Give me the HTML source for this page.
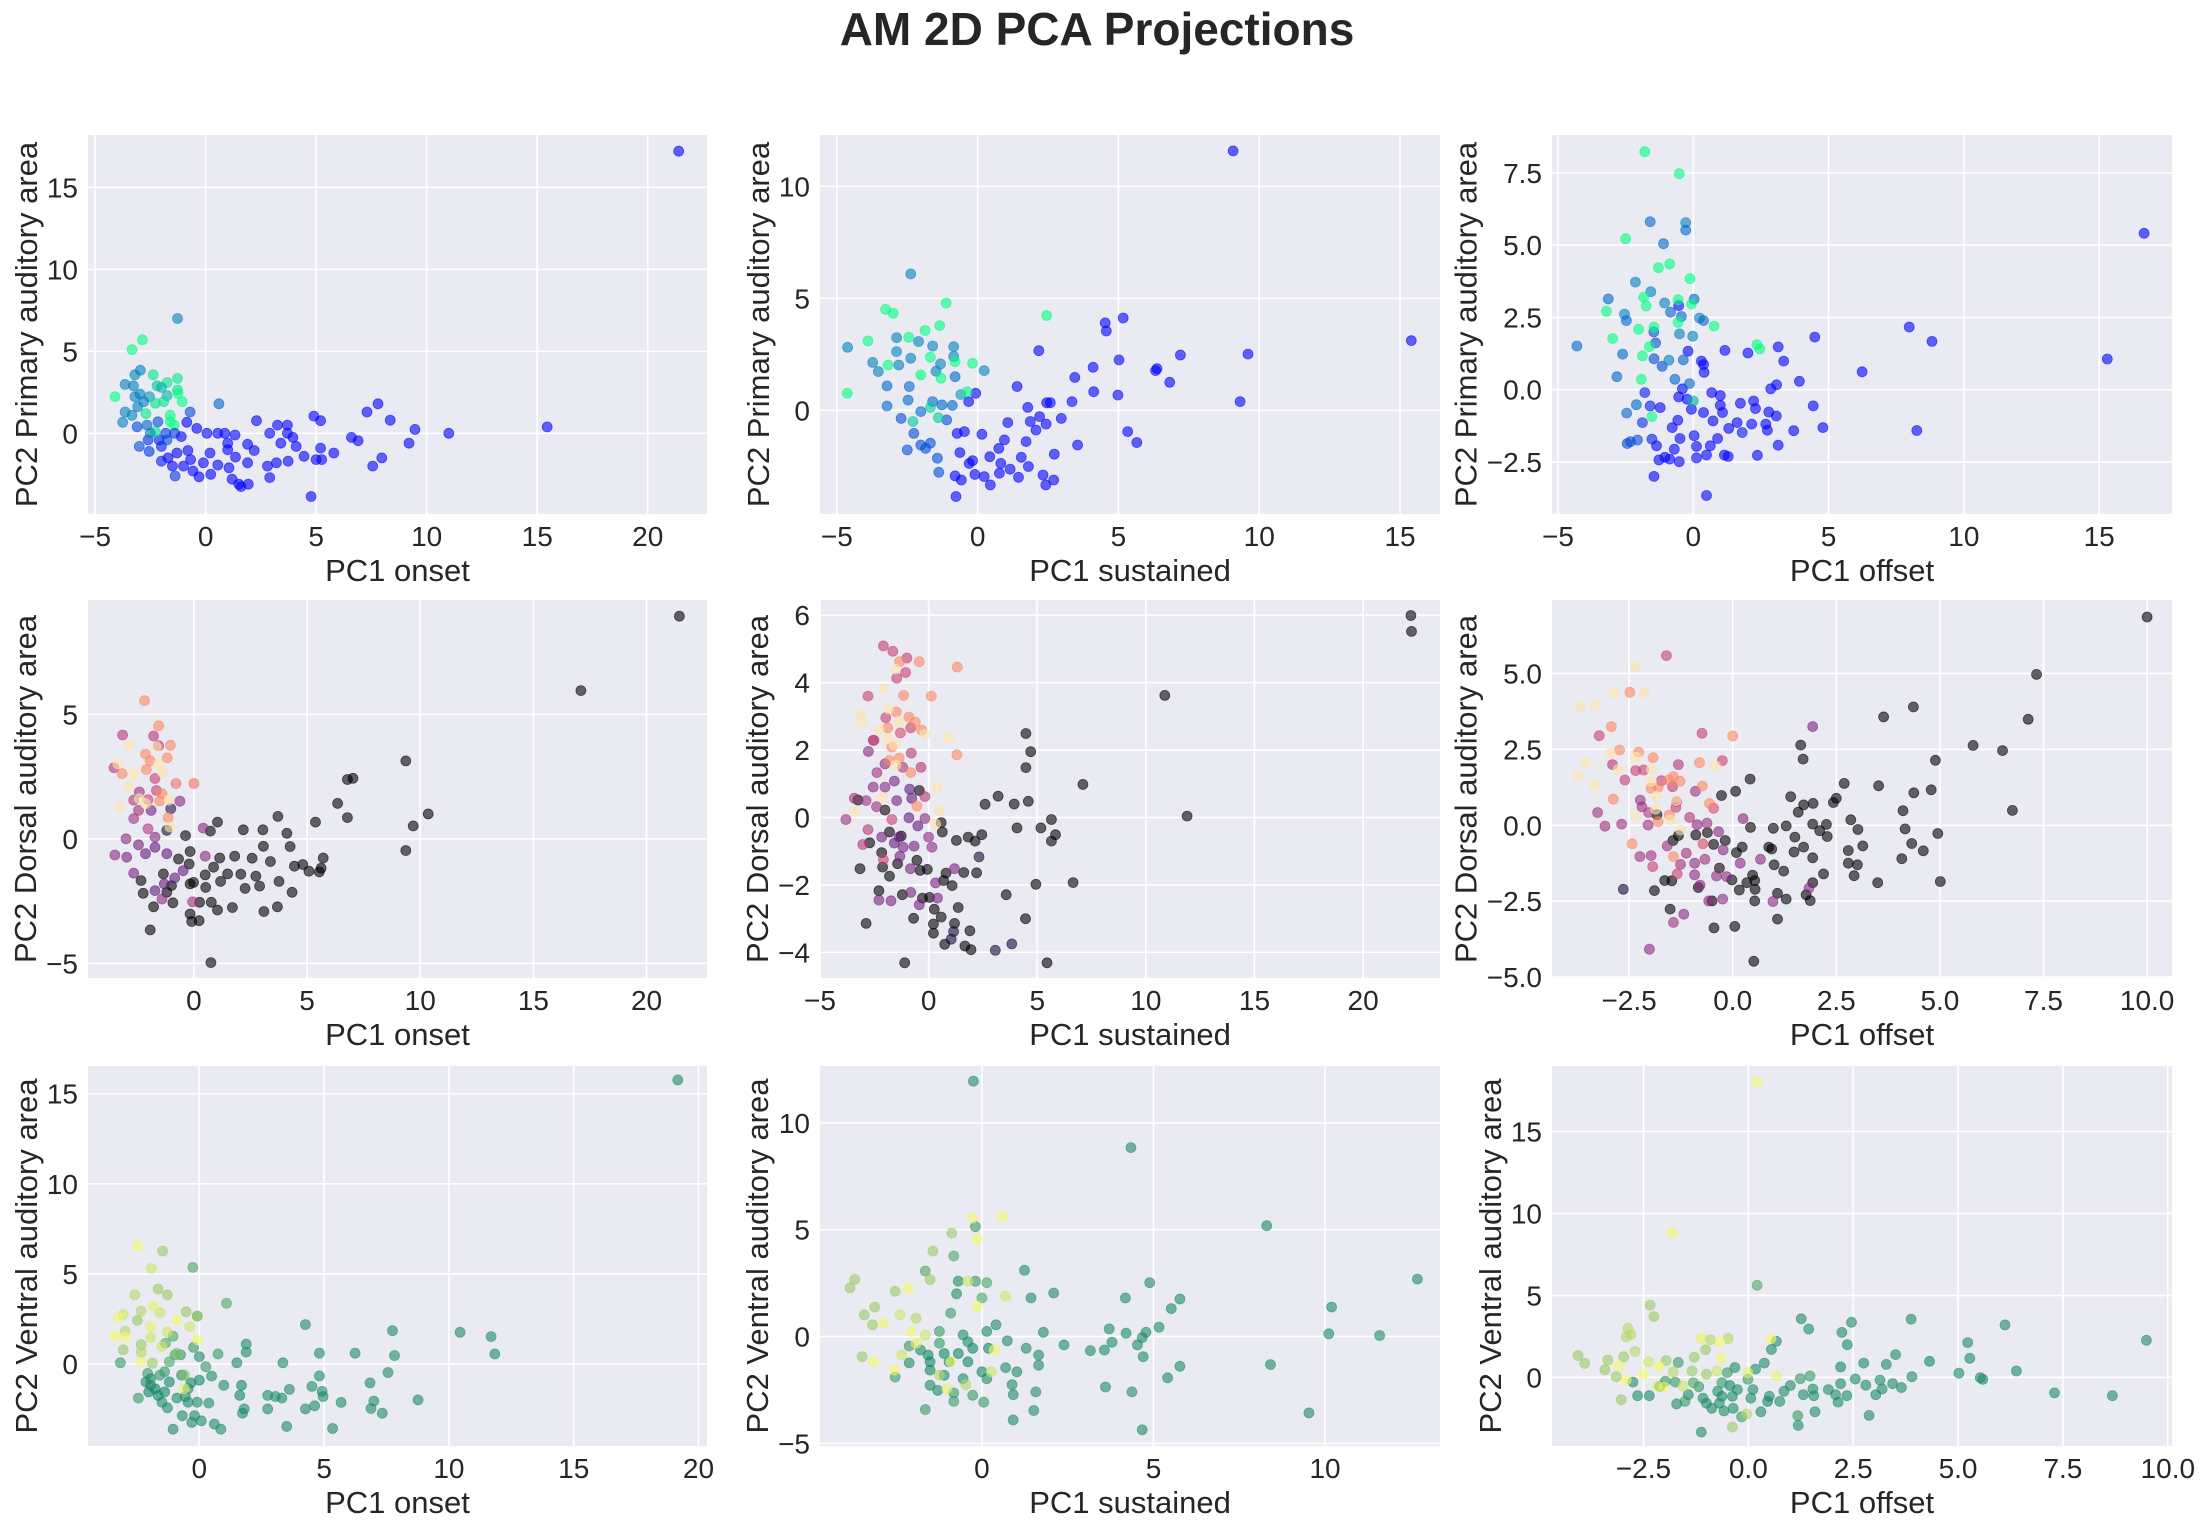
<!DOCTYPE html>
<html><head><meta charset="utf-8">
<style>
html,body{margin:0;padding:0;background:#fff;}
svg{display:block;}
text{font-family:"Liberation Sans",Arial,sans-serif;fill:#262626;}
</style></head>
<body>
<svg id="fig" width="2200" height="1525" viewBox="0 0 2200 1525" xmlns="http://www.w3.org/2000/svg">
<text x="1097" y="45" text-anchor="middle" font-size="46" font-weight="bold">AM 2D PCA Projections</text>
</svg>
<script>
// ---------- data: [x, y, colorValue] ----------
const p1Points=[[21.4,17.2,0],[15.45,0.39,0],[11.0,0,0],[9.47,0.24,0],[9.2,-0.6,0],[8.35,0.8,0],[7.8,1.8,0],[7.3,1.3,0],[7.97,-1.5,0],[7.56,-2.0,0],[6.9,-0.45,0],[6.6,-0.25,0],[5.8,-1.2,0],[5.2,0.77,0],[4.9,1.05,0],[5.2,-0.9,0],[5.0,-1.6,0],[5.25,-1.6,0],[4.77,-3.85,0],[4.45,-1.4,0],[4.1,-0.8,0],[3.95,-0.25,0],[3.7,0.5,0],[3.7,0,0],[3.73,-1.7,0],[3.4,-0.6,0],[3.25,0.5,0],[3.2,-1.8,0],[2.9,0,0],[2.8,-2.0,0],[2.9,-2.7,0],[2.3,0.77,0],[2.2,-1.05,0],[1.9,-0.67,0],[1.9,-1.8,0],[1.93,-3.1,0],[1.6,-3.25,0],[1.5,-3.1,0],[1.33,-0.1,0],[1.35,-1.45,0],[1.2,-2.8,0],[1.06,-2.1,0],[1.0,-0.6,0],[1.0,-1.0,0],[0.87,0,0],[0.55,0,0],[0.55,-1.93,0],[0.23,-2.5,0],[0.06,0,0],[0.2,-1.2,0],[-0.1,-1.8,0],[-0.3,-2.65,0],[-0.4,0.3,0],[-0.57,-2.3,0],[-0.68,-1.6,0],[-0.8,-1.05,0],[-0.85,0.67,0],[-1.0,-2.0,0],[-1.1,-0.2,0],[-1.3,-1.2,0],[-1.38,-2.6,0.2],[-1.5,-2.0,0],[-1.7,-1.5,0],[-2.0,-1.7,0.1],[-2.0,-0.8,0.1],[-2.1,-0.4,0.1],[-2.55,-1.1,0.2],[-2.6,-0.4,0.2],[-3.0,-0.8,0.3],[-3.1,0.4,0.3],[-1.8,0,0.2],[-0.7,1.3,0.3],[0.6,1.8,0.4],[-1.27,7.0,0.5],[-2.86,5.7,1],[-3.33,5.1,1],[-2.95,3.85,0.5],[-3.2,3.57,0.5],[-2.37,3.57,0.9],[-1.27,3.35,0.9],[-1.74,3.1,0.9],[-3.64,2.98,0.5],[-3.26,2.9,0.5],[-2.2,2.9,0.8],[-2.0,2.8,0.7],[-1.27,2.64,0.9],[-1.25,2.43,1],[-4.1,2.23,1],[-3.2,2.23,0.5],[-2.97,2.4,0.5],[-2.54,2.23,0.6],[-1.74,2.3,0.7],[-1.06,1.93,1],[-1.9,1.93,0.9],[-2.27,1.83,0.9],[-2.8,1.93,0.5],[-3.07,1.62,0.5],[-3.64,1.3,0.5],[-3.33,1.1,0.5],[-2.7,1.2,0.9],[-1.6,1.1,1],[-1.6,0.7,1],[-1.42,0.5,1],[-3.75,0.67,0.5],[-2.27,0.1,0.9],[-2.5,0,0.5],[-2.65,0.5,0.4],[-1.74,-0.4,0.3],[-1.4,0,0.2],[-2.16,0.7,0.3]];
const p2Points=[[9.07,11.58,0],[15.4,3.11,0],[9.6,2.51,0],[9.32,0.39,0],[7.2,2.47,0],[6.82,1.25,0],[6.32,1.77,0],[6.37,1.86,0],[5.17,4.12,0],[4.53,3.9,0],[4.57,3.54,0],[5.02,2.25,0],[4.1,1.92,0],[4.12,0.83,0],[4.98,0.68,0],[5.33,-0.95,0],[5.65,-1.44,0],[3.55,-1.55,0],[3.45,1.47,0],[3.35,0.39,0],[2.58,0.34,0],[2.45,0.34,0],[2.17,2.66,0],[2.97,-0.36,0],[2.72,-1.96,0],[2.7,-3.11,0],[2.42,-3.33,0],[2.32,-2.89,0],[2.43,-0.61,0],[2.2,-0.28,0],[2.07,-0.88,0],[1.87,-0.5,0],[1.8,-2.51,0],[1.72,-1.4,0],[1.78,0.13,0],[1.4,1.06,0],[1.55,-2.1,0],[1.45,-2.99,0],[1.15,-2.63,0],[1.07,-0.55,0],[0.95,-1.32,0],[0.82,-2.37,0],[0.75,-1.7,0],[0.77,-2.81,0],[0.45,-3.33,0],[0.43,-2.07,0],[0.23,-2.96,0],[0.15,-1.07,0],[-0.1,-2.86,0],[-0.18,-2.25,0],[-0.3,-2.37,0],[-0.47,-0.95,0],[-0.58,-3.11,0],[-0.77,-3.85,0],[-0.8,-2.93,0],[-0.73,-1.03,0],[-0.63,-1.89,0],[-0.07,0.76,0],[-0.32,0.39,0],[-1.1,-0.43,0.3],[-1.43,-2.14,0.3],[-1.38,-2.77,0.3],[-1.68,-1.47,0.3],[-1.85,-1.7,0.3],[-2.02,-1.55,0.3],[-2.5,-1.77,0.3],[-2.72,-0.36,0.3],[-2.27,-1.03,0.3],[-2.47,0.46,0.4],[-3.22,0.19,0.4],[-3.22,1.09,0.4],[-2.43,1.06,0.4],[-2.02,-0.06,0.4],[-1.6,0.39,0.4],[-1.27,0.24,0.4],[-0.9,0.22,0.4],[-0.8,1.5,0.4],[-0.85,2.84,0.5],[-0.85,2.4,0.5],[-1.32,2.07,0.5],[-1.48,1.74,0.5],[-1.6,2.87,0.5],[-2.1,3.07,0.5],[-2.88,3.24,0.5],[-2.38,6.09,0.5],[-2.88,2.62,0.5],[-3.73,2.14,0.5],[-3.53,1.73,0.5],[-4.62,2.81,0.5],[-2.8,2.02,0.5],[-2.38,2.32,0.5],[0.23,1.77,0.5],[-0.6,0.7,0.6],[-1.12,4.79,1],[2.45,4.23,1],[-3.27,4.51,1],[-3.0,4.33,1],[-1.35,3.78,1],[-1.87,3.56,1],[-2.45,3.26,1],[-3.9,3.1,1],[-1.68,2.37,1],[-0.8,2.17,1],[-0.18,2.1,1],[-3.18,2.02,1],[-2.02,1.58,1],[-1.3,1.43,1],[-4.63,0.76,1],[-0.38,0.83,1],[-1.68,0.13,0.8],[-2.3,-0.5,0.8],[-1.4,-0.33,0.8]];
const p3Points=[[16.66,5.41,0],[15.3,1.06,0],[8.82,1.67,0],[7.98,2.17,0],[8.26,-1.41,0],[6.24,0.62,0],[4.49,1.82,0],[4.43,-0.56,0],[4.79,-1.31,0],[3.92,0.29,0],[3.71,-1.42,0],[3.34,0.99,0],[3.14,1.48,0],[3.08,0.17,0],[2.86,0.03,0],[3.14,-1.92,0],[3.07,-0.91,0],[2.79,-0.77,0],[2.74,-1.4,0],[2.68,-1.19,0],[2.37,-2.27,0],[2.3,-0.65,0],[2.23,-0.39,0],[2.02,1.27,0],[2.16,-1.19,0],[1.74,-0.47,0],[1.81,-1.48,0.1],[1.62,-1.14,0],[1.17,1.36,0],[1.29,-2.31,0],[1.15,-2.26,0],[1.31,-1.34,0],[1.08,-0.79,0],[1.0,-0.54,0],[1.0,-0.2,0],[0.9,-1.69,0],[0.73,-1.08,0],[0.68,-0.1,0],[0.63,-1.94,0],[0.49,-2.26,0],[0.38,0.87,0],[0.4,0.6,0],[0.3,0.99,0],[0.49,-3.66,0],[0.38,-0.79,0],[0.12,-2.36,0],[0.12,-1.96,0],[0.03,-1.59,0],[-0.07,-0.68,0],[-0.19,1.33,0],[-0.23,-0.33,0],[-0.4,0.03,0],[-0.49,-1.69,0],[-0.52,-2.49,0],[-0.54,-0.25,0],[-0.54,2.91,0],[-0.57,-1.06,0],[-0.7,-2.06,0],[-0.78,-1.31,0],[-0.87,-2.4,0],[-1.05,-2.34,0],[-1.22,-0.62,0],[-1.27,-2.43,0],[-1.45,-3.0,0],[-1.36,-1.94,0],[-1.53,-1.71,0.1],[-1.59,-0.56,0.1],[-1.79,-0.1,0.1],[-1.88,-1.14,0.2],[-2.06,-1.74,0.3],[-2.32,-1.8,0.3],[-2.44,-1.86,0.3],[-1.15,0.81,0.3],[-1.46,2.0,0.3],[-1.39,1.62,0.3],[-1.45,1.07,0.3],[-1.59,5.81,0.4],[-0.28,5.78,0.5],[-0.28,5.52,0.4],[-1.1,5.05,0.4],[-2.14,3.72,0.5],[-1.57,3.39,0.5],[-3.14,3.14,0.4],[-1.06,3.0,0.5],[0.03,3.13,0.4],[-0.84,2.68,0.4],[-0.44,2.53,0.4],[0.23,2.48,0.5],[0.38,2.39,0.4],[-2.54,2.61,0.5],[-2.47,2.39,0.4],[-0.51,1.93,0.5],[-0.02,1.85,0.5],[-4.3,1.51,0.4],[-2.61,1.23,0.4],[-0.9,1.02,0.5],[-0.37,1.03,0.4],[-2.82,0.45,0.4],[-2.1,-0.52,0.4],[-2.46,-0.81,0.4],[-0.68,0.36,0.4],[-0.14,0.21,0.4],[-1.79,8.23,1],[-0.52,7.47,1],[-2.5,5.22,1],[-1.29,4.22,1],[-0.87,4.35,1],[-0.12,3.84,1],[-1.83,3.2,1],[-1.74,2.9,1],[-0.56,3.11,1],[-0.07,2.96,1],[-3.21,2.71,1],[0.77,2.2,1],[-1.45,2.16,1],[-2.02,2.09,1],[-0.56,2.33,1],[2.35,1.56,1],[2.46,1.41,1],[-2.98,1.77,1],[-1.62,1.49,1],[-1.88,1.17,1],[-1.92,0.36,1],[-1.53,-0.93,1],[0.0,-0.39,0.7]];
const p4Points=[[21.45,8.94,0],[17.1,5.95,0],[9.36,3.13,0],[10.35,1.0,0],[9.69,0.52,0],[9.36,-0.47,0],[6.78,2.38,0],[7.03,2.43,0],[6.35,1.42,0],[6.78,0.85,0],[5.37,0.67,0],[5.71,-0.77,0],[5.62,-1.18,0],[5.54,-1.33,0],[5.08,-1.3,0],[4.81,-1.03,0],[4.44,-1.1,0],[4.34,-2.15,0],[4.25,-0.31,0],[4.11,0.22,0],[3.76,-1.71,0],[3.71,0.9,0],[3.38,-0.91,0],[3.05,0.36,0],[3.07,-0.3,0],[3.09,-2.92,0],[3.69,-2.73,0],[2.9,-1.9,0],[2.74,-1.5,0],[2.57,-0.78,0],[2.18,0.36,0],[2.07,-1.42,0],[2.26,-1.99,0],[1.7,-2.76,0],[1.8,-0.7,0],[1.49,-1.41,0],[1.18,-1.71,0],[1.14,-0.77,0],[1.04,-2.86,0],[1.04,0.67,0],[0.73,0.31,0],[0.77,-2.55,0],[0.75,-4.97,0],[0.87,-1.14,0],[0.5,-1.45,0],[0.52,-1.95,0],[0.25,-2.55,0],[0.23,-3.29,0],[-0.17,-3.02,0],[-0.1,-3.32,0],[-0.02,-1.75,0],[-0.17,-1.81,0],[-0.17,-0.51,0],[-0.21,-1.01,0],[-0.37,0.13,0],[-0.68,-0.81,0],[-0.93,-2.57,0],[-0.99,-1.88,0],[-1.35,-1.41,0],[-1.2,-2.15,0],[-1.78,-2.73,0],[-1.93,-3.66,0],[-2.24,-2.19,0],[-2.34,-1.68,0],[-1.2,0.34,0.1],[-1.02,1.21,0.15],[-0.62,1.51,0.4],[0.41,0.43,0.4],[0.5,-0.7,0.4],[-0.06,-2.53,0.45],[-0.48,-1.28,0.3],[-0.85,-1.57,0.3],[-1.41,-2.42,0.4],[-1.31,-1.81,0.3],[-1.72,-2.08,0.3],[-2.66,-1.38,0.35],[-2.97,-0.74,0.35],[-3.49,-0.65,0.4],[-3.0,0,0.4],[-2.45,-0.24,0.35],[-2.14,-0.6,0.3],[-1.72,-0.34,0.3],[-1.2,-0.6,0.3],[-1.89,1.14,0.35],[-1.72,0.07,0.4],[-2.03,0.4,0.5],[-2.66,0.81,0.45],[-2.41,1.88,0.45],[-2.45,1.14,0.45],[-2.66,1.55,0.5],[-3.53,2.85,0.5],[-3.15,4.17,0.5],[-1.78,4.13,0.5],[-1.56,3.74,0.5],[-1.72,2.42,0.55],[-1.66,1.94,0.55],[-2.03,1.57,0.55],[-2.18,5.55,0.75],[-1.56,4.54,0.75],[-1.04,3.76,0.75],[-1.18,3.25,0.75],[-2.14,3.4,0.75],[-1.93,3.13,0.75],[-3.17,2.62,0.75],[-0.79,2.22,0.7],[0.0,2.22,0.7],[-1.41,1.81,0.75],[-1.51,1.52,0.75],[-1.14,0.85,0.75],[-2.1,2.78,0.75],[-2.84,3.76,0.95],[-3.36,3.0,0.95],[-1.58,3.0,0.95],[-2.66,2.59,0.95],[-1.39,2.65,0.95],[-2.86,2.08,0.95],[-3.28,1.28,0.95],[-2.14,1.41,0.95],[-1.1,1.55,0.95],[-2.41,1.61,0.95],[-1.66,3.7,0.95],[-1.06,0.47,0.95]];
const p5Points=[[22.2,5.99,0],[22.23,5.52,0],[10.87,3.62,0],[11.9,0.04,0],[7.1,0.98,0],[6.65,-1.93,0],[5.84,-0.51,0],[5.65,-0.06,0],[5.65,-0.7,0],[5.17,-0.31,0],[4.94,-1.98,0],[5.45,-4.31,0],[4.59,0.48,0],[4.48,2.49,0],[4.7,1.95,0],[4.48,1.48,0],[4.46,-3.0,0],[4.07,-0.31,0],[3.94,0.4,0],[3.83,-3.75,0.1],[3.57,-2.29,0],[3.2,0.63,0],[3.07,-3.94,0.1],[2.6,0.39,0],[2.45,-0.51,0],[2.32,-1.17,0.1],[2.21,-1.64,0],[2.14,-0.7,0],[1.82,-0.58,0],[1.9,-3.36,0],[1.95,-3.92,0],[1.67,-3.81,0],[1.62,-1.63,0],[1.36,-2.67,0],[1.28,-0.68,0],[1.19,-3.14,0],[1.15,-3.38,0.1],[1.04,-3.61,0.1],[1.08,-2.02,0],[0.8,-1.65,0],[0.74,-3.76,0],[0.69,-1.87,0],[0.63,-0.43,0],[0.58,-0.15,0],[0.58,-2.95,0],[0.26,-2.72,0],[0.22,-3.43,0],[0.22,-3.16,0],[0.04,-2.37,0],[-0.28,-2.39,0],[-0.39,-1.57,0],[-0.06,-1.54,0],[-0.43,0.8,0],[-0.54,-1.27,0],[-0.69,-2.99,0],[-1.1,-4.31,0],[-1.21,-2.29,0],[-1.26,-0.55,0],[-1.43,-1.37,0],[-1.8,-1.74,0],[-1.8,-0.43,0],[-2.16,-1.04,0],[-2.12,-1.47,0],[-2.29,-2.17,0],[-2.71,-0.75,0],[-2.88,-3.14,0],[-3.16,-1.52,0],[-3.25,0.52,0],[-2.01,0.22,0],[-3.81,-0.06,0.45],[-3.42,0.57,0.45],[-2.88,0.5,0.45],[-2.4,0.32,0.45],[-2.55,0.9,0.4],[-2.01,0.9,0.4],[-1.58,1.08,0.35],[-1.47,0.5,0.35],[-0.87,0.84,0.3],[-0.78,0.57,0.3],[-0.91,-0.01,0.3],[-0.5,-0.25,0.3],[-0.17,-0.03,0.4],[0.0,-0.58,0.4],[0.15,-0.88,0.4],[-0.67,-0.85,0.35],[-1.17,-0.88,0.35],[-1.58,-0.76,0.3],[-2.16,-0.58,0.35],[-2.79,-0.36,0.5],[-3.03,-0.8,0.5],[-2.08,-1.25,0.55],[-1.32,-1.15,0.35],[-0.84,-1.52,0.35],[-0.82,-2.22,0.35],[-1.73,-2.47,0.35],[-2.29,-2.45,0.35],[-0.43,-2.59,0.35],[0.32,-1.94,0.35],[0.41,-2.39,0.35],[1.19,-1.52,0.35],[-1.36,-0.58,0.3],[-2.77,1.96,0.4],[-2.55,2.29,0.45],[-2.01,1.59,0.4],[-2.38,1.33,0.45],[-0.35,1.49,0.5],[-0.8,1.91,0.5],[-1.19,1.49,0.5],[-0.17,0.62,0.5],[-1.69,-0.06,0.55],[-2.08,5.09,0.55],[-1.65,4.93,0.55],[-1.0,4.73,0.55],[-1.06,4.3,0.55],[-1.47,4.13,0.55],[-2.79,3.6,0.55],[-1.97,2.96,0.55],[-0.82,2.66,0.55],[-2.51,2.29,0.55],[-1.3,2.51,0.6],[-1.34,4.62,0.75],[-0.43,4.62,0.75],[1.32,4.46,0.75],[-1.15,3.62,0.75],[0.13,3.6,0.75],[-1.49,3.13,0.75],[-0.91,2.98,0.75],[-0.61,2.83,0.75],[-1.88,2.66,0.75],[-0.32,2.59,0.75],[-1.69,2.09,0.75],[1.3,1.86,0.75],[-1.8,1.69,0.75],[-1.36,1.76,0.75],[-0.82,1.33,0.75],[-0.54,0.34,0.75],[-1.51,4.4,0.95],[-2.08,3.82,0.95],[-3.12,3.05,0.95],[-3.07,2.81,0.95],[-1.84,3.22,0.95],[-1.36,2.86,0.95],[-2.27,2.61,0.95],[-0.17,2.46,0.95],[0.93,2.36,0.95],[-1.58,2.16,0.95],[-1.9,2.33,0.95],[0.41,0.88,0.95],[0.52,0.2,0.95],[-2.12,0.59,0.95],[-3.38,0.17,0.95],[-1.51,1.56,0.95],[0.32,-0.2,0.95]];
const p6Points=[[10.0,6.86,0],[7.33,4.97,0],[7.13,3.49,0],[6.75,0.49,0],[6.51,2.46,0],[5.8,2.63,0],[5.01,-1.85,0],[4.95,-0.27,0],[4.89,2.14,0],[4.79,1.17,0],[4.6,-0.84,0],[4.36,3.9,0],[4.37,1.07,0],[4.32,-0.6,0],[4.16,-0.12,0],[4.11,0.48,0],[4.08,-1.1,0],[3.64,3.57,0],[3.52,1.3,0],[3.5,-1.89,0],[3.14,-0.68,0],[3.02,-0.14,0],[3.01,-1.3,0],[2.93,-1.66,0],[2.85,0.18,0],[2.79,-1.25,0],[2.79,-0.83,0],[2.69,1.38,0],[2.5,0.89,0],[2.43,0.75,0],[2.28,-0.37,0],[2.26,0.03,0],[2.19,-1.6,0],[2.1,-0.18,0],[1.94,0.72,0],[1.93,0.04,0],[1.93,-1.07,0],[1.93,-1.89,0],[1.87,-2.48,0],[1.77,-2.29,0],[1.71,0.67,0],[1.71,-0.72,0],[1.7,2.18,0],[1.64,2.64,0],[1.58,0.43,0],[1.5,-0.39,0],[1.48,-0.88,0],[1.4,0.94,0],[1.29,-0.02,0],[1.29,-2.43,0],[1.23,-1.51,0],[1.08,-3.09,0],[1.08,-2.24,0],[1.0,-1.3,0],[0.98,-0.1,0],[0.94,-0.78,0],[0.87,-0.72,0],[0.53,-1.82,0],[0.53,-2.49,0],[0.51,-4.48,0],[0.54,-2.11,0],[0.48,-1.64,0],[0.43,-0.07,0],[0.42,1.52,0],[0.34,-1.89,0],[0.23,-0.72,0],[0.16,-2.13,0],[0.09,-0.9,0],[0.07,1.12,0],[0.05,-3.33,0],[-0.02,-1.8,0],[-0.18,-0.5,0],[-0.27,0.98,0],[-0.32,-1.41,0],[-0.45,-3.38,0],[-0.46,-0.63,0],[-0.5,-2.49,0],[-0.61,-0.24,0],[-0.89,-0.32,0],[-0.83,-2.05,0],[-1.51,-2.76,0],[-1.47,-1.83,0],[-1.64,-1.82,0],[-1.31,-0.34,0],[-1.44,-0.5,0],[-1.89,-2.15,0],[-2.64,-2.11,0.1],[-1.83,0.35,0],[1.93,3.25,0.35],[1.84,-2.07,0.4],[0.97,-2.51,0.4],[0.67,-1.12,0.4],[0.25,0.22,0.4],[0.18,-1.25,0.4],[-0.15,-1.69,0.4],[-0.23,-0.81,0.4],[-0.39,-1.67,0.4],[-0.34,-0.21,0.4],[-0.62,0.07,0.45],[-0.67,-1.12,0.45],[-0.58,-2.49,0.4],[-0.24,-2.43,0.4],[-0.79,-1.97,0.4],[-0.92,-1.63,0.4],[-0.92,-1.25,0.4],[-0.86,0.02,0.4],[-0.9,1.12,0.45],[-1.04,0.26,0.5],[-1.12,-0.92,0.45],[-1.26,-1.29,0.45],[-1.34,-1.6,0.55],[-1.43,-3.2,0.45],[-1.18,-2.93,0.4],[-1.58,-0.68,0.45],[-1.31,2.0,0.5],[-1.37,0.59,0.55],[-1.35,0.78,0.5],[-1.72,1.47,0.55],[-1.45,1.27,0.55],[-2.23,0.83,0.45],[-2.19,0.61,0.45],[-2.03,0.42,0.5],[-2.04,0.01,0.45],[-2.24,-1.03,0.45],[-1.97,-1.0,0.45],[-1.93,-1.36,0.55],[-2.01,-4.08,0.4],[-3.26,0.42,0.45],[-3.08,-0.03,0.45],[-2.68,0.04,0.45],[-2.9,2.0,0.5],[-3.22,2.95,0.55],[-2.6,1.49,0.55],[-2.34,1.8,0.55],[-2.15,1.82,0.55],[-1.6,5.59,0.55],[-0.74,3.03,0.55],[-0.25,2.13,0.55],[-0.46,0.56,0.6],[-0.72,-0.61,0.6],[-2.93,3.25,0.75],[-2.48,4.38,0.75],[0.0,2.94,0.75],[-2.73,2.48,0.75],[-2.27,2.41,0.75],[-1.92,2.23,0.75],[-0.8,2.06,0.75],[-1.55,1.49,0.75],[-1.43,1.6,0.75],[-1.27,1.45,0.75],[-1.8,1.25,0.75],[-1.97,1.22,0.75],[-0.73,1.29,0.75],[-2.88,0.86,0.75],[-0.56,0.72,0.75],[-1.53,0.34,0.75],[-1.8,0.12,0.75],[-2.43,-0.61,0.75],[-1.43,-1.03,0.75],[-2.34,5.21,0.95],[-2.87,4.34,0.95],[-2.13,4.36,0.95],[-3.66,3.9,0.95],[-3.3,3.95,0.95],[-2.95,2.37,0.95],[-3.55,2.07,0.95],[-2.33,2.24,0.95],[-1.96,1.84,0.95],[-2.76,1.84,0.95],[-3.73,1.63,0.95],[-3.33,1.32,0.95],[-1.96,1.44,0.95],[-1.84,0.96,0.95],[-0.42,1.96,0.95],[-1.86,0.53,0.95],[-1.36,0.81,0.95],[-2.34,0.31,0.95],[-1.51,0.18,0.95],[-1.26,-0.15,0.95]];
const p7Points=[[19.17,15.77,0.1],[10.45,1.76,0.1],[11.69,1.52,0.1],[11.84,0.56,0.1],[7.74,1.85,0.1],[7.82,0.47,0.1],[7.56,-0.47,0.1],[6.84,-1.05,0.1],[6.99,-2.06,0.1],[6.88,-2.47,0.1],[7.33,-2.73,0.1],[8.76,-1.99,0.1],[6.24,0.6,0.1],[5.68,-2.13,0.1],[5.34,-3.58,0.1],[4.92,-1.52,0.1],[4.96,-1.8,0.1],[4.81,0.6,0.1],[4.81,-0.66,0.1],[4.62,-2.32,0.1],[4.51,-1.24,0.1],[4.25,2.19,0.1],[4.25,-2.49,0.1],[3.61,-1.41,0.1],[3.5,-3.46,0.1],[3.35,0.07,0.1],[3.31,-1.89,0.1],[3.05,-1.8,0.1],[2.74,-1.74,0.1],[2.74,-2.49,0.1],[1.88,1.1,0.1],[1.88,0.66,0.1],[1.8,-2.49,0.1],[1.73,-2.73,0.1],[1.69,-1.18,0.05],[1.62,-1.74,0.05],[1.5,0.07,0.1],[1.09,3.37,0.3],[0.98,-1.18,0.1],[0.86,-3.62,0.1],[0.75,0.56,0.2],[0.6,-3.33,0.1],[0.49,-0.67,0.1],[0.38,-2.17,0.1],[0.26,-0.15,0.2],[0.08,-3.15,0.1],[0.0,-0.9,0.05],[0.0,0.41,0.1],[-0.08,-2.12,0.1],[-0.19,-2.87,0.1],[-0.3,-3.24,0.1],[-0.23,0.92,0.2],[-0.26,5.36,0.3],[-0.08,2.66,0.3],[-0.34,-1.05,0.05],[-0.45,-1.37,0.1],[-0.56,-1.8,0.1],[-0.68,-2.87,0.1],[-0.75,0.51,0.2],[-0.9,-1.89,0.1],[-1.05,-3.62,0.1],[-1.05,1.54,0.3],[-1.2,-0.99,0.05],[-1.28,-2.43,0.1],[-1.39,-1.55,0.05],[-1.5,-2.12,0.1],[-1.58,-0.62,0.2],[-1.77,-1.37,0.05],[-1.95,-1.18,0.1],[-2.07,-0.52,0.2],[-2.03,-1.55,0.05],[-2.14,-0.99,0.1],[-2.44,-1.89,0.2],[-3.16,0.07,0.2],[-1.95,-0.81,0.1],[-1.65,-1.74,0.05],[-1.39,-0.43,0.2],[-1.2,0.13,0.3],[-0.71,-0.62,0.1],[-0.45,-2.12,0.1],[-0.98,0.51,0.3],[-1.35,1.16,0.3],[-2.48,6.55,0.95],[-1.47,6.27,0.6],[-1.92,5.3,0.8],[-2.59,3.84,0.7],[-1.65,4.16,0.6],[-1.28,3.84,0.6],[-1.84,3.22,0.9],[-2.33,2.94,0.7],[-3.05,2.75,0.8],[-3.23,2.57,0.95],[-1.58,2.85,0.8],[-0.53,2.9,0.6],[-0.08,2.66,0.6],[-0.9,2.45,0.95],[-2.48,2.42,0.6],[-1.95,2.08,0.9],[-0.38,2.08,0.8],[-2.97,1.82,0.7],[-1.28,1.78,0.8],[-3.38,1.54,0.95],[-2.97,1.5,0.95],[-1.95,1.48,0.8],[-0.08,1.35,0.95],[-2.33,1.07,0.6],[-1.5,0.97,0.8],[-3.05,0.79,0.6],[-0.9,0.6,0.5],[-2.33,0.13,0.95],[-1.88,0.04,0.6],[-2.33,0.66,0.7],[-0.6,-1.37,0.9],[-0.6,-0.62,0.5]];
const p8Points=[[-0.25,11.95,0.1],[4.34,8.84,0.1],[8.3,5.19,0.1],[12.69,2.69,0.1],[10.19,1.38,0.1],[10.11,0.13,0.1],[11.59,0.05,0.1],[8.41,-1.31,0.1],[9.53,-3.57,0.1],[5.77,1.76,0.1],[5.52,1.31,0.1],[4.89,2.52,0.1],[5.16,0.44,0.1],[4.78,0.2,0.1],[4.67,-0.05,0.1],[4.53,-0.39,0.1],[4.7,-0.94,0.1],[5.77,-1.39,0.1],[5.41,-1.93,0.1],[4.37,-2.59,0.1],[4.67,-4.36,0.1],[4.18,1.81,0.1],[4.2,0.16,0.1],[3.79,-0.27,0.1],[3.71,0.36,0.1],[3.57,-0.63,0.1],[3.16,-0.66,0.1],[3.6,-2.36,0.1],[2.39,-0.39,0.1],[2.09,2.04,0.1],[1.79,0.2,0.1],[1.57,-2.59,0.1],[1.51,-3.46,0.1],[1.43,1.81,0.1],[1.24,3.1,0.1],[1.65,-0.86,0.1],[1.65,-1.34,0.1],[1.29,-0.55,0.1],[1.02,-1.65,0.1],[0.88,-2.25,0.1],[0.91,-3.9,0.1],[0.91,-2.72,0.1],[0.69,-1.45,0.1],[0.74,-0.2,0.1],[0.41,0.55,0.1],[0.19,-0.55,0.05],[0.14,-1.97,0.1],[0.05,-3.07,0.2],[0.14,0.24,0.1],[-0.19,5.14,0.2],[-0.19,2.59,0.2],[0.14,2.52,0.3],[0.0,1.81,0.3],[-0.27,-0.55,0.05],[-0.41,-1.18,0.05],[-0.55,0.08,0.1],[-0.69,2.59,0.1],[-0.74,2.0,0.1],[-0.82,3.77,0.3],[-0.91,1.1,0.2],[-0.96,-1.18,0.05],[-1.1,-1.81,0.1],[-0.82,-2.64,0.2],[-0.82,-3.03,0.2],[-1.1,-0.79,0.05],[-1.29,-2.52,0.1],[-1.51,-1.57,0.05],[-1.51,-2.28,0.1],[-1.65,-3.41,0.2],[-1.65,3.07,0.3],[-1.57,-0.86,0.05],[-1.51,-1.18,0.05],[-1.79,-0.63,0.1],[-2.12,-0.44,0.2],[-2.12,-1.23,0.1],[-2.53,-1.89,0.2],[-1.24,-0.31,0.2],[-0.69,-0.79,0.05],[-0.41,-0.24,0.1],[0.0,-1.65,0.05],[-0.27,-2.75,0.2],[-1.24,0.24,0.2],[-0.55,-1.97,0.1],[-0.27,5.55,0.95],[0.6,5.63,0.95],[-0.14,4.56,0.95],[-0.88,4.84,0.6],[-1.43,4.0,0.6],[-0.41,2.59,0.8],[-3.85,2.28,0.6],[-3.71,2.67,0.6],[-2.14,2.25,0.95],[-2.53,2.12,0.6],[-1.51,2.67,0.6],[-3.13,1.38,0.6],[-3.43,1.02,0.6],[-2.88,0.63,0.95],[-2.39,1.02,0.8],[-1.92,0.86,0.7],[-0.14,1.42,0.95],[0.69,1.89,0.8],[-3.19,0.55,0.6],[-2.06,0.24,0.95],[-1.65,0.08,0.8],[-1.92,-0.31,0.9],[-2.34,-0.86,0.8],[-3.16,-1.18,0.95],[-3.49,-0.94,0.6],[-2.55,-1.57,0.95],[-1.24,-1.81,0.7],[-0.47,-2.25,0.7],[-1.02,-2.44,0.9],[0.27,-1.65,0.8],[-0.91,-1.18,0.95],[0.36,-0.63,0.95]];
const p9Points=[[9.49,2.26,0.1],[8.68,-1.12,0.1],[7.3,-0.95,0.1],[6.12,3.2,0.1],[6.39,0.39,0.1],[5.59,-0.12,0.1],[5.53,-0.02,0.1],[5.28,1.16,0.1],[5.23,2.12,0.1],[5.02,0.25,0.1],[4.32,0.98,0.05],[3.88,3.55,0.1],[3.9,0.04,0.1],[3.65,-0.62,0.1],[3.51,1.39,0.1],[3.44,-0.39,0.1],[3.29,0.79,0.1],[3.19,-0.71,0.1],[3.14,-0.17,0.1],[3.04,-1.06,0.1],[2.88,-2.32,0.1],[2.8,-0.48,0.1],[2.75,0.87,0.1],[2.55,-0.1,0.1],[2.46,3.36,0.1],[2.36,1.99,0.1],[2.35,-1.12,0.1],[2.23,2.74,0.1],[2.2,0.64,0.05],[2.2,-0.39,0.1],[2.14,-1.51,0.1],[2.08,-1.06,0.1],[1.91,-0.75,0.1],[1.59,-2.1,0.1],[1.56,-1.12,0.1],[1.54,-0.71,0.1],[1.47,0.08,0.2],[1.44,2.95,0.1],[1.31,-1.06,0.1],[1.26,3.57,0.1],[1.18,-2.34,0.2],[1.19,-2.93,0.1],[1.24,-0.08,0.2],[1.0,-0.5,0.1],[0.85,-0.85,0.1],[0.75,-1.47,0.1],[0.67,2.2,0.1],[0.55,1.7,0.1],[0.5,-1.16,0.1],[0.46,-1.47,0.05],[0.38,0.87,0.1],[0.3,-2.1,0.1],[0.21,5.62,0.3],[0.17,0.5,0.1],[0.11,-0.75,0.1],[0.06,-1.27,0.1],[-0.01,-0.12,0.2],[-0.16,-2.41,0.2],[-0.26,-0.75,0.1],[-0.32,0.6,0.1],[-0.36,-1.89,0.1],[-0.44,-0.5,0.05],[-0.5,0.29,0.2],[-0.58,-2.05,0.1],[-0.63,-1.16,0.1],[-0.69,-1.58,0.1],[-0.73,-0.85,0.1],[-0.87,-1.89,0.1],[-1.0,-1.58,0.1],[-1.08,-1.27,0.1],[-1.12,-3.34,0.1],[-1.18,-0.58,0.2],[-1.43,-1.06,0.1],[-1.51,-1.47,0.2],[-1.71,-1.62,0.1],[-1.74,-0.29,0.2],[-1.98,-0.23,0.2],[-2.11,-0.54,0.1],[-2.36,-1.12,0.1],[-2.64,-1.12,0.1],[-2.75,-0.29,0.1],[-0.38,-1.16,0.1],[-0.63,-0.33,0.2],[-1.31,-0.33,0.3],[-1.67,0.91,0.2],[0.21,18.03,0.95],[-1.81,8.82,0.95],[-2.34,4.4,0.6],[-2.25,3.71,0.6],[-2.87,2.99,0.7],[-2.91,2.47,0.7],[-2.8,2.61,0.7],[-1.12,2.37,0.9],[-0.9,2.3,0.7],[-0.48,2.37,0.7],[-0.68,2.16,0.95],[0.54,2.37,0.95],[-1.02,1.68,0.6],[-2.7,1.58,0.7],[-4.06,1.33,0.6],[-1.29,1.22,0.6],[-0.65,1.16,0.95],[-2.97,1.26,0.6],[-3.35,1.06,0.6],[-2.38,0.95,0.8],[-1.96,1.02,0.6],[-3.9,0.85,0.6],[-3.09,0.71,0.95],[-2.13,0.66,0.95],[-3.42,0.46,0.6],[-1.79,0.33,0.7],[-2.5,0.19,0.95],[-3.15,0.04,0.6],[-1.34,0.39,0.6],[-1.0,0.19,0.6],[-2.91,-0.17,0.95],[-2.01,-0.6,0.95],[-3.03,-1.37,0.6],[-2.16,-0.54,0.9],[-0.01,0.29,0.9],[0.67,0.08,0.9],[-1.55,-0.54,0.8],[-0.75,0.39,0.8],[-0.04,-2.24,0.7],[-0.38,-3.03,0.6]];

// ---------- ticks ----------
const ticksOnsetWide=[-5,0,5,10,15,20];
const ticksOnset=[0,5,10,15,20];
const ticksSus1=[-5,0,5,10,15];
const ticksSus2=[-5,0,5,10,15,20];
const ticksSus3=[0,5,10];
const ticksOffsetWide=[-5,0,5,10,15];
const ticksOffsetFine=[-2.5,0,2.5,5,7.5,10];
const yTicks1=[0,5,10,15];
const yTicks2=[0,5,10];
const yTicks3=[-2.5,0,2.5,5,7.5];
const yTicks4=[-5,0,5];
const yTicks5=[-4,-2,0,2,4,6];
const yTicks6=[-5,-2.5,0,2.5,5];
const yTicks7=[0,5,10,15];
const yTicks8=[-5,0,5,10];
const yTicks9=[0,5,10,15];
const xLabels=["PC1 onset","PC1 sustained","PC1 offset"];
const yLabels=["PC2 Primary auditory area","PC2 Dorsal auditory area","PC2 Ventral auditory area"];

// ---------- layout ----------
const colX=[[88,707],[820,1440],[1552,2172]];
const rowY=[[135,514],[600,978],[1066,1446]];
const panels=[
 {r:0,c:0,pts:p1Points,xd:[-5.32,22.68],yd:[-4.92,18.19],xt:ticksOnsetWide,yt:yTicks1,dec:0,ydec:0,cmap:'winter',name:'onset-primary'},
 {r:0,c:1,pts:p2Points,xd:[-5.6,16.42],yd:[-4.63,12.29],xt:ticksSus1,yt:yTicks2,dec:0,ydec:0,cmap:'winter',name:'sustained-primary'},
 {r:0,c:2,pts:p3Points,xd:[-5.22,17.69],yd:[-4.3,8.81],xt:ticksOffsetWide,yt:yTicks3,dec:0,ydec:1,cmap:'winter',name:'offset-primary'},
 {r:1,c:0,pts:p4Points,xd:[-4.68,22.67],yd:[-5.59,9.59],xt:ticksOnset,yt:yTicks4,dec:0,ydec:0,cmap:'magma',name:'onset-dorsal'},
 {r:1,c:1,pts:p5Points,xd:[-5.0,23.54],yd:[-4.76,6.45],xt:ticksSus2,yt:yTicks5,dec:0,ydec:0,cmap:'magma',name:'sustained-dorsal'},
 {r:1,c:2,pts:p6Points,xd:[-4.36,10.6],yd:[-5.03,7.42],xt:ticksOffsetFine,yt:yTicks6,dec:1,ydec:1,cmap:'magma',name:'offset-dorsal'},
 {r:2,c:0,pts:p7Points,xd:[-4.46,20.34],yd:[-4.55,16.54],xt:ticksOnset,yt:yTicks7,dec:0,ydec:0,cmap:'summer',name:'onset-ventral'},
 {r:2,c:1,pts:p8Points,xd:[-4.72,13.35],yd:[-5.12,12.66],xt:ticksSus3,yt:yTicks8,dec:0,ydec:0,cmap:'summer',name:'sustained-ventral'},
 {r:2,c:2,pts:p9Points,xd:[-4.68,10.1],yd:[-4.19,19.0],xt:ticksOffsetFine,yt:yTicks9,dec:1,ydec:0,cmap:'summer',name:'offset-ventral'}
];

function lerp(a,b,t){return a+(b-a)*t;}
const magmaStops=[[0,0,0,4],[0.13,28,16,68],[0.25,79,18,123],[0.38,129,37,129],[0.5,181,54,122],[0.63,229,80,100],[0.75,251,135,97],[0.88,254,194,135],[1,252,253,191]];
function colorFor(cmap,c){
  if(cmap==='winter') return 'rgb(0,'+Math.round(255*c)+','+Math.round(255*(1-0.5*c))+')';
  if(cmap==='summer') return 'rgb('+Math.round(255*c)+','+Math.round(255*(0.5+0.5*c))+','+Math.round(255*0.4)+')';
  for(let i=1;i<magmaStops.length;i++){
    if(c<=magmaStops[i][0]){
      const a=magmaStops[i-1],b=magmaStops[i],t=(c-a[0])/(b[0]-a[0]);
      return 'rgb('+Math.round(lerp(a[1],b[1],t))+','+Math.round(lerp(a[2],b[2],t))+','+Math.round(lerp(a[3],b[3],t))+')';
    }
  }
  return 'rgb(252,253,191)';
}
function fmt(v,d){const s=Math.abs(v).toFixed(d);return (v<0?'\u2212':'')+s;}

const NS='http://www.w3.org/2000/svg';
const fig=document.getElementById('fig');
function mk(tag,attrs,parent){const e=document.createElementNS(NS,tag);for(const k in attrs)e.setAttribute(k,attrs[k]);parent.appendChild(e);return e;}

panels.forEach(function(p){
  const x0=colX[p.c][0],x1=colX[p.c][1],y0=rowY[p.r][0],y1=rowY[p.r][1];
  const sx=function(v){return x0+(v-p.xd[0])/(p.xd[1]-p.xd[0])*(x1-x0);};
  const sy=function(v){return y1-(v-p.yd[0])/(p.yd[1]-p.yd[0])*(y1-y0);};
  const g=mk('g',{},fig);
  
  
  const bg=mk('rect',{x:x0,y:y0,width:x1-x0,height:y1-y0,fill:'#EAEAF2'},g);
  
  
  const clipId='clip'+p.r+p.c;
  const cp=mk('clipPath',{id:clipId},g);mk('rect',{x:x0,y:y0,width:x1-x0,height:y1-y0},cp);
  p.xt.forEach(function(t){
    const X=sx(t);
    const gl=mk('line',{x1:X,x2:X,y1:y0,y2:y1,stroke:'#fff','stroke-width':1.6},g);
    
    
    const tx=mk('text',{x:X,y:y1+32,'text-anchor':'middle','font-size':28},g);
    tx.textContent=fmt(t,p.dec);
    
    
  });
  let maxW=0;
  p.yt.forEach(function(t){
    const Y=sy(t);
    const gl=mk('line',{x1:x0,x2:x1,y1:Y,y2:Y,stroke:'#fff','stroke-width':1.6},g);
    
    
    const ty=mk('text',{x:x0-10,y:Y+10,'text-anchor':'end','font-size':28},g);
    ty.textContent=fmt(t,p.ydec);
    
    
    maxW=Math.max(maxW,ty.getComputedTextLength());
  });
  const pg=mk('g',{'clip-path':'url(#'+clipId+')'},g);
  
  
  p.pts.forEach(function(d){
    const col=colorFor(p.cmap,d[2]);
    const ci=mk('circle',{cx:sx(d[0]).toFixed(1),cy:sy(d[1]).toFixed(1),r:5,fill:col,'fill-opacity':0.6,stroke:col,'stroke-opacity':0.6,'stroke-width':0.8},pg);
    
    
  });
  const xl=mk('text',{x:(x0+x1)/2,y:y1+67,'text-anchor':'middle','font-size':31},g);
  xl.textContent=xLabels[p.c];
  
  
  const cy=(y0+y1)/2, cx=x0-(maxW+20);
  const yl=mk('text',{x:cx,y:cy,'text-anchor':'middle','font-size':31,transform:'rotate(-90 '+cx+' '+cy+')'},g);
  yl.textContent=yLabels[p.r];
  
  
});
</script>
</body></html>
